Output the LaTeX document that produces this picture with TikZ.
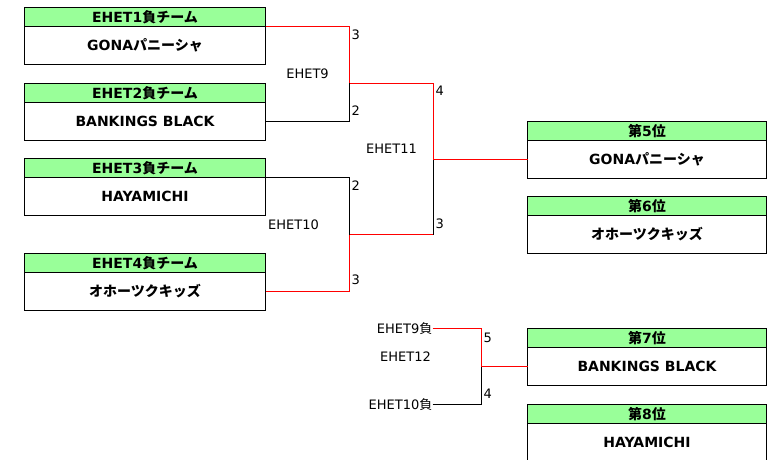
\documentclass[tikz,border=0pt]{standalone}
\usepackage{fontspec}
\setmainfont{DejaVu Sans}
\newfontfamily\jp{Noto Sans CJK JP}
\definecolor{hdrgreen}{RGB}{153,255,153}
\definecolor{winred}{RGB}{255,0,0}
\begin{document}
\begin{tikzpicture}[x=1pt,y=-1pt,
  hdr/.style={draw=black,line width=1pt,fill=hdrgreen,minimum width=241pt,minimum height=19pt,inner sep=0pt,outer sep=0pt,anchor=north west,font=\bfseries\fontsize{14}{14}\selectfont},
  body/.style={draw=black,line width=1pt,fill=white,minimum width=241pt,minimum height=38pt,inner sep=0pt,outer sep=0pt,anchor=north west,font=\bfseries\fontsize{14}{14}\selectfont},
  win/.style={draw=winred,line width=1pt},
  lose/.style={draw=black,line width=1pt},
  lbl/.style={inner sep=0pt,font=\fontsize{13}{13}\selectfont},
  score/.style={inner sep=0pt,anchor=west,font=\fontsize{13}{13}\selectfont}]
\useasboundingbox (-0.5,-0.5) rectangle (768.5,459.5);
% left boxes
\node[hdr] (h1) at (24,7) {EHET1{\jp 負チーム}};
\node[body] (b1) at (h1.south west) {GONA{\jp パニーシャ}};
\node[hdr] (h2) at (24,83) {EHET2{\jp 負チーム}};
\node[body] (b2) at (h2.south west) {BANKINGS BLACK};
\node[hdr] (h3) at (24,158) {EHET3{\jp 負チーム}};
\node[body] (b3) at (h3.south west) {HAYAMICHI};
\node[hdr] (h4) at (24,253) {EHET4{\jp 負チーム}};
\node[body] (b4) at (h4.south west) {{\jp オホーツクキッズ}};
% right boxes
\node[hdr,minimum width=239pt] (h5) at (527,121) {{\jp 第}5{\jp 位}};
\node[body,minimum width=239pt] (b5) at (h5.south west) {GONA{\jp パニーシャ}};
\node[hdr,minimum width=239pt] (h6) at (527,196) {{\jp 第}6{\jp 位}};
\node[body,minimum width=239pt] (b6) at (h6.south west) {{\jp オホーツクキッズ}};
\node[hdr,minimum width=239pt] (h7) at (527,328) {{\jp 第}7{\jp 位}};
\node[body,minimum width=239pt] (b7) at (h7.south west) {BANKINGS BLACK};
\node[hdr,minimum width=239pt] (h8) at (527,404) {{\jp 第}8{\jp 位}};
\node[body,minimum width=239pt] (b8) at (h8.south west) {HAYAMICHI};
% junction coordinates
\coordinate (m9) at (349,83);
\coordinate (m10) at (349,234);
\coordinate (t11) at (433,83);
\coordinate (u11) at (433,234);
\coordinate (m11) at (433,159);
\coordinate (m12) at (481,366);
% EHET9
\draw[win] (b1.north east) -| (m9);
\draw[win] (m9) -- (t11);
\draw[lose] (b2.east) -| (m9);
\node[lbl] (g9) at (307,73) {EHET9};
\node[score] (s91) at (351,34) {3};
\node[score] (s92) at (351,110) {2};
% EHET10
\draw[lose] (b3.north east) -| (m10);
\draw[win] (b4.east) -| (m10);
\draw[win] (m10) -- (u11);
\node[lbl] (g10) at (293,224) {EHET10};
\node[score] (s101) at (351,185) {2};
\node[score] (s102) at (351,279) {3};
% EHET11
\draw[lose] (u11) -- (m11);
\draw[win] (t11) -- (m11);
\draw[win] (m11) -- (b5.west);
\node[lbl] (g11) at (391,148) {EHET11};
\node[score] (s111) at (435,90) {4};
\node[score] (s112) at (435,223) {3};
% EHET12
\node[lbl,anchor=east] (l9) at (432,328) {EHET9{\jp 負}};
\node[lbl,anchor=east] (l10) at (432,404) {EHET10{\jp 負}};
\draw[lose] (l10.east) -| (m12);
\draw[win] (l9.east) -| (m12);
\draw[win] (m12) -- (b7.west);
\node[lbl] (g12) at (405,356) {EHET12};
\node[score] (s121) at (483,337) {5};
\node[score] (s122) at (483,393) {4};
\end{tikzpicture}
\end{document}
